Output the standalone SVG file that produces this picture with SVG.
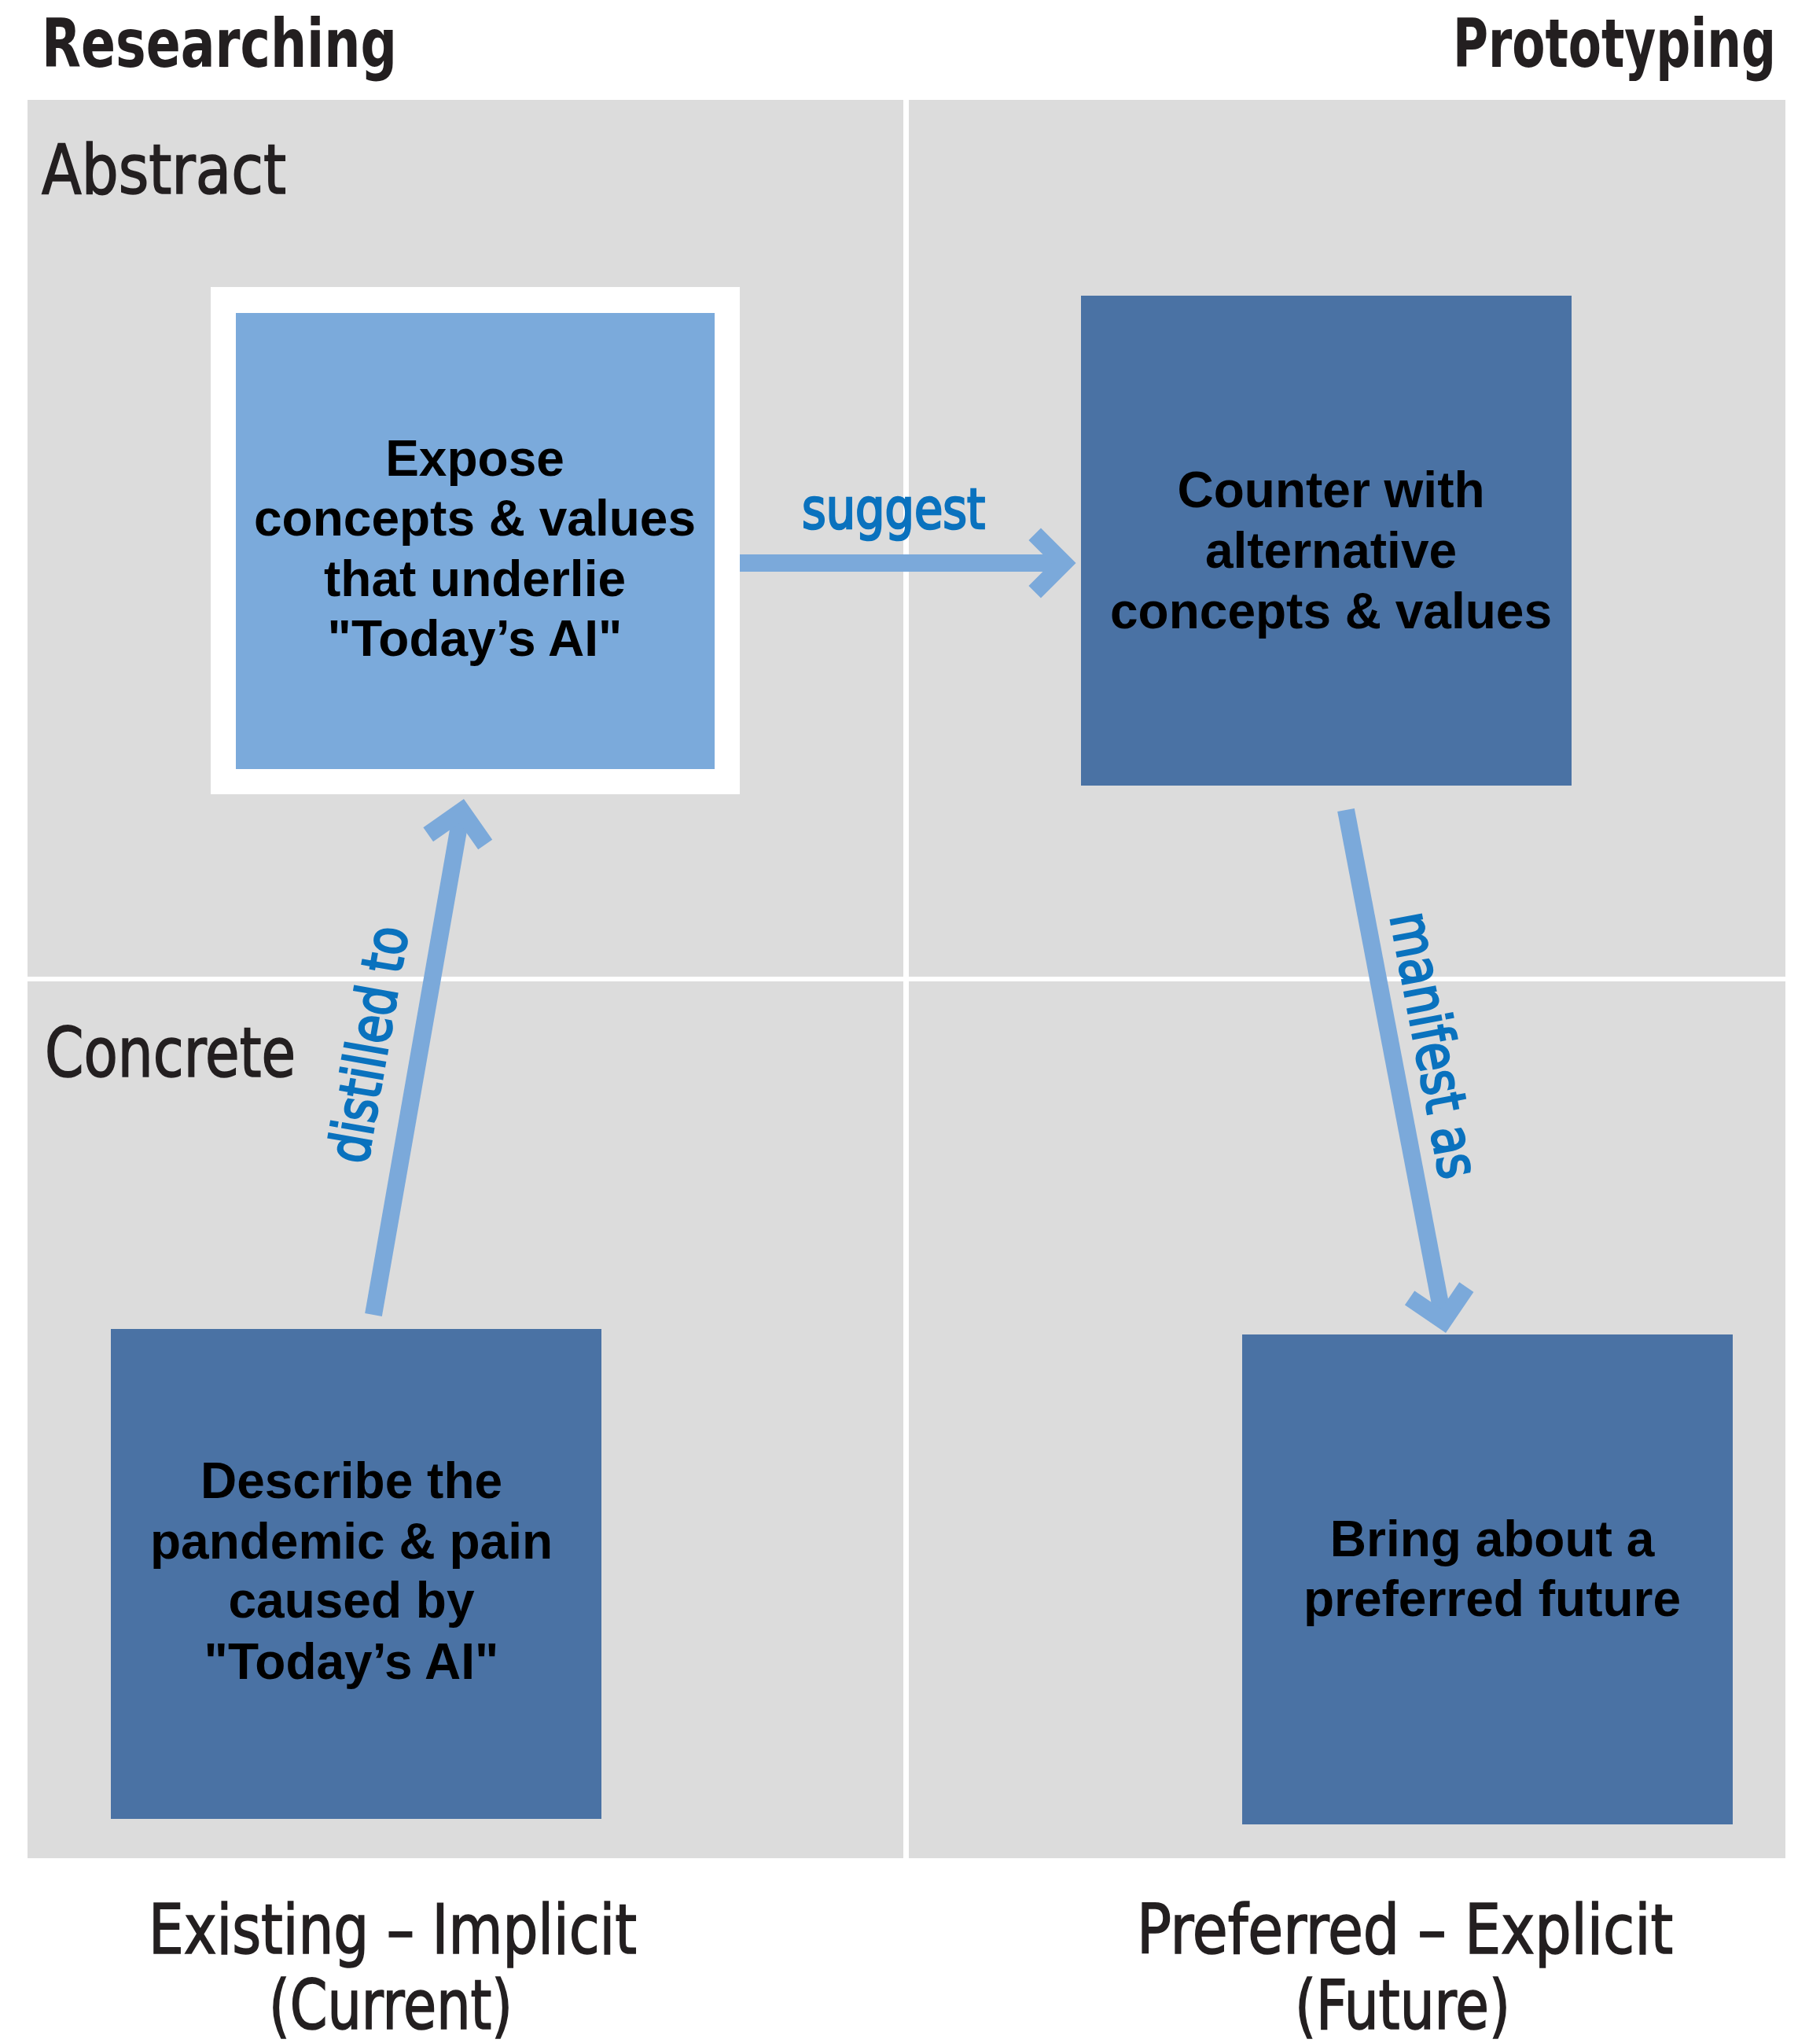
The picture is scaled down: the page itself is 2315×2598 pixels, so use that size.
<svg xmlns="http://www.w3.org/2000/svg" width="2315" height="2598" viewBox="0 0 2315 2598">
<style>
.panel{fill:#dcdcdc}
.head{font-family:"Liberation Sans Narrow","DejaVu Sans Condensed","Liberation Sans",sans-serif;font-stretch:condensed;fill:#231f20}
.hb{font-weight:bold;font-size:86px}
.hn{font-size:88px;stroke:#231f20;stroke-width:1.6px}
.node-text{font-family:"Liberation Sans",Arial,sans-serif;font-weight:bold;font-size:64px;fill:#000;text-anchor:middle}
.lbl{font-family:"Liberation Sans Narrow","DejaVu Sans Condensed","Liberation Sans",sans-serif;font-stretch:condensed;font-size:72px;fill:#0a72be;stroke:#0a72be;stroke-width:2.6px}
.conn{fill:none;stroke:#7ba9da;stroke-width:22;stroke-linecap:butt;stroke-linejoin:miter}
.light{fill:#7baadb}
.dark{fill:#4a72a4}
</style>
<rect width="2315" height="2598" fill="#ffffff"/>
<g id="quadrants">
<rect class="panel" x="35" y="127" width="1114" height="1115"/>
<rect class="panel" x="1156" y="127" width="1115" height="1115"/>
<rect class="panel" x="35" y="1248" width="1114" height="1115"/>
<rect class="panel" x="1156" y="1248" width="1115" height="1115"/>
</g>
<g id="headings">
<text class="head hb" x="53" y="85" textLength="452" lengthAdjust="spacingAndGlyphs">Researching</text>
<text class="head hb" x="2259" y="85" text-anchor="end" textLength="411" lengthAdjust="spacingAndGlyphs">Prototyping</text>
<text class="head hn" x="53" y="246" textLength="311" lengthAdjust="spacingAndGlyphs">Abstract</text>
<text class="head hn" x="57" y="1369" textLength="319" lengthAdjust="spacingAndGlyphs">Concrete</text>
<text class="head hn" x="189" y="2484" textLength="621" lengthAdjust="spacingAndGlyphs">Existing – Implicit</text>
<text class="head hn" x="342" y="2580" textLength="310" lengthAdjust="spacingAndGlyphs">(Current)</text>
<text class="head hn" x="1446" y="2484" textLength="682" lengthAdjust="spacingAndGlyphs">Preferred – Explicit</text>
<text class="head hn" x="1647" y="2580" textLength="274" lengthAdjust="spacingAndGlyphs">(Future)</text>
</g>
<g id="node-expose">
<rect x="268" y="365" width="673" height="645" fill="#ffffff"/>
<rect class="light" x="300" y="398" width="609" height="580"/>
<text class="node-text" x="604" y="605">Expose</text>
<text class="node-text" x="604" y="681">concepts &amp; values</text>
<text class="node-text" x="604" y="758">that underlie</text>
<text class="node-text" x="604" y="834">"Today’s AI"</text>
</g>
<g id="node-counter">
<rect class="dark" x="1375" y="376" width="624" height="623"/>
<text class="node-text" x="1693" y="645">Counter with</text>
<text class="node-text" x="1693" y="722">alternative</text>
<text class="node-text" x="1693" y="799">concepts &amp; values</text>
</g>
<g id="node-describe">
<rect class="dark" x="141" y="1690" width="624" height="623"/>
<text class="node-text" x="447" y="1905">Describe the</text>
<text class="node-text" x="447" y="1982">pandemic &amp; pain</text>
<text class="node-text" x="447" y="2057">caused by</text>
<text class="node-text" x="447" y="2135">"Today’s AI"</text>
</g>
<g id="node-bring">
<rect class="dark" x="1580" y="1697" width="624" height="623"/>
<text class="node-text" x="1898" y="1979">Bring about a</text>
<text class="node-text" x="1898" y="2055">preferred future</text>
</g>
<g id="connectors">
<g id="edge-suggest">
<line class="conn" x1="941" y1="716" x2="1353" y2="716"/>
<polyline class="conn" points="1316.2,679.2 1353,716 1316.2,752.8"/>
<text class="lbl" x="1020" y="672" textLength="233" lengthAdjust="spacingAndGlyphs">suggest</text>
</g>
<g id="edge-distilled">
<line class="conn" x1="475" y1="1672" x2="587.3" y2="1031.4"/>
<polyline class="conn" points="544.7,1061.3 587.3,1031.4 617.2,1074"/>
<text class="lbl" transform="translate(467,1482) rotate(-80.06)" x="0" y="0" textLength="304" lengthAdjust="spacingAndGlyphs">distilled to</text>
</g>
<g id="edge-manifest">
<line class="conn" x1="1712" y1="1030" x2="1836.1" y2="1679.7"/>
<polyline class="conn" points="1865.3,1636.7 1836.1,1679.7 1793.1,1650.5"/>
<text class="lbl" transform="translate(1768,1165) rotate(79.2)" x="0" y="0" textLength="343" lengthAdjust="spacingAndGlyphs">manifest as</text>
</g>
</g>
</svg>
